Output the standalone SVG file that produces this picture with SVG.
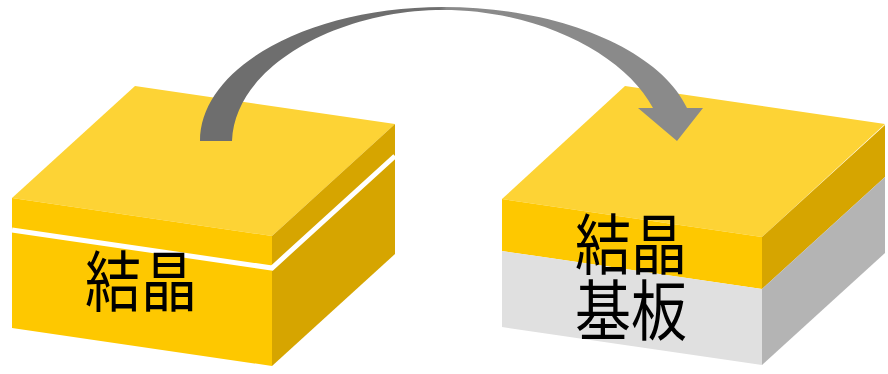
<svg xmlns="http://www.w3.org/2000/svg" width="888" height="374" viewBox="0 0 888 374">
  <style>
    .top { fill: #FDD335; }
    .front { fill: #FEC800; }
    .side { fill: #D6A500; }
    .sub-front { fill: #E0E0E0; }
    .sub-side { fill: #B4B4B4; }
    .gap { fill: none; stroke: #FFFFFF; stroke-width: 5; stroke-linejoin: miter; }
    .label { font-family: "Noto Sans CJK JP", "Noto Sans CJK SC", sans-serif; font-size: 56px; fill: #000000; text-anchor: middle; }
  </style>
  <defs>
    <linearGradient id="arrowFill" gradientUnits="userSpaceOnUse" x1="200" y1="0" x2="703" y2="0">
      <stop offset="0" stop-color="#6E6E6E"/>
      <stop offset="0.475" stop-color="#6E6E6E"/>
      <stop offset="0.49" stop-color="#8A8A8A"/>
      <stop offset="1" stop-color="#8A8A8A"/>
    </linearGradient>
  </defs>

  <!-- crystal block, split by a thin gap -->
  <g id="crystal-block">
    <polygon class="top" points="12,198 135,86 395,124 272,236"/>
    <polygon class="front" points="12,198 272,236 272,366 12,328"/>
    <polygon class="side" points="272,236 395,124 395,254 272,366"/>
    <polyline class="gap" points="12,230 272,268 395,156"/>
    <text class="label" transform="translate(141,281) scale(1,1.18)" x="0" y="21">結晶</text>
  </g>

  <!-- crystal layer on substrate -->
  <g id="crystal-on-substrate">
    <polygon class="top" points="502,199 625,86 885,124 762,237"/>
    <polygon class="front" points="502,199 762,237 762,289 502,251"/>
    <polygon class="side" points="762,237 885,125 885,177 762,289"/>
    <polygon class="sub-front" points="502,251 762,289 762,365 502,327"/>
    <polygon class="sub-side" points="762,289 885,177 885,253 762,365"/>
    <text class="label" transform="translate(631,244) scale(1,1.18)" x="0" y="21">結晶</text>
    <text class="label" transform="translate(631,310) scale(1,1.18)" x="0" y="21">基板</text>
  </g>

  <!-- transfer arrow -->
  <g id="connectors">
    <path fill="url(#arrowFill)" d="M200,141 C200,67 309,7 443,7 C560,7 660,50 687,108 L703,108 L677,141 L638,108 L653,108 C625,55 540,10 443,10 C340,10 235,65 232,141 Z"/>
  </g>
</svg>
